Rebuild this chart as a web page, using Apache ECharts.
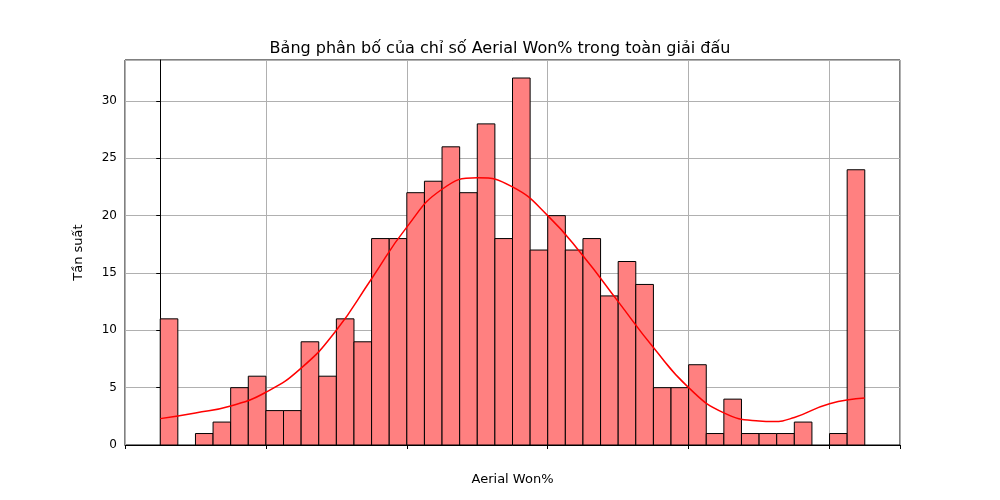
<!DOCTYPE html>
<html><head><meta charset="utf-8">
<script src="https://cdn.jsdelivr.net/npm/echarts@6/dist/echarts.min.js"></script>
<style>html,body{margin:0;background:#fff}#main{width:1000px;height:500px}</style>
</head><body><div id="main"></div>
<script>
// so lieu histogram: 40 bin, rong 2.5
var binStart = 0, binWidth = 2.5;
var counts = [11,0,1,2,5,6,3,3,9,6,11,9,18,18,22,23,26,22,28,18,32,17,20,17,18,13,16,14,5,5,7,1,4,1,1,1,2,0,1,24];
// duong KDE doc tu hinh
var kdeX = [0,5,10,15,20,25,30,35,40,45,50,55,60,65,70,75,80,85,87,90,95,100];
var kdeY = [2.3,2.8,3.4,4.6,6.7,10,14.5,19,22.3,23.3,22.5,20,16.5,12.5,8.5,5,2.8,2.1,2.05,2.4,3.6,4.1];

var barData = counts.map(function(c,i){ return [binStart+i*binWidth, binStart+(i+1)*binWidth, c]; });
var kdeData = kdeX.map(function(x,i){ return [x,kdeY[i]]; });

var myChart = echarts.init(document.getElementById("main"));
var font = "DejaVu Sans";
option = {
  animation:false,
  title:{text:"Bảng phân bố của chỉ số Aerial Won% trong toàn giải đấu",left:"center",top:36,
    textStyle:{fontFamily:font,fontSize:16,fontWeight:"normal",color:"#000"}},
  grid:{left:125,right:100,top:60,bottom:55,show:true,borderColor:"#000",borderWidth:1},
  xAxis:{type:"value",min:-5,max:105,interval:20,name:"Aerial Won%",nameLocation:"middle",nameGap:28,
    nameTextStyle:{fontFamily:font,fontSize:13,color:"#000"},
    axisLabel:{fontFamily:font,fontSize:12,color:"#000",
      formatter:function(v){return (v%20===0&&v>=0&&v<=100)?v:"";}},
    axisTick:{show:true,length:4,lineStyle:{color:"#000"}},
    axisLine:{lineStyle:{color:"#000"}},
    splitLine:{show:true,lineStyle:{color:"#b0b0b0"}}},
  yAxis:{type:"value",min:0,max:33.57,interval:5,name:"Tần suất",nameLocation:"middle",nameGap:40,
    nameTextStyle:{fontFamily:font,fontSize:13,color:"#000"},
    axisLabel:{fontFamily:font,fontSize:12,color:"#000",showMaxLabel:false},
    axisTick:{show:true,length:4,lineStyle:{color:"#000"}},
    axisLine:{show:true,lineStyle:{color:"#000"}},
    splitLine:{show:true,lineStyle:{color:"#b0b0b0"}}},
  series:[{
    type:"custom",
    data:barData,
    encode:{x:[0,1],y:2},
    renderItem:function(params,api){
      var p0 = api.coord([api.value(0),api.value(2)]);
      var p1 = api.coord([api.value(1),0]);
      if(api.value(2)===0) return;
      return {type:"rect",shape:{x:p0[0],y:p0[1],width:p1[0]-p0[0],height:p1[1]-p0[1]},
        style:{fill:"#ff8080",stroke:"#000",lineWidth:1}};
    }
  },{
    type:"line",data:kdeData,smooth:true,showSymbol:false,
    lineStyle:{color:"#ff0000",width:1.5}
  }]
};
myChart.setOption(option);
</script>
</body></html>
